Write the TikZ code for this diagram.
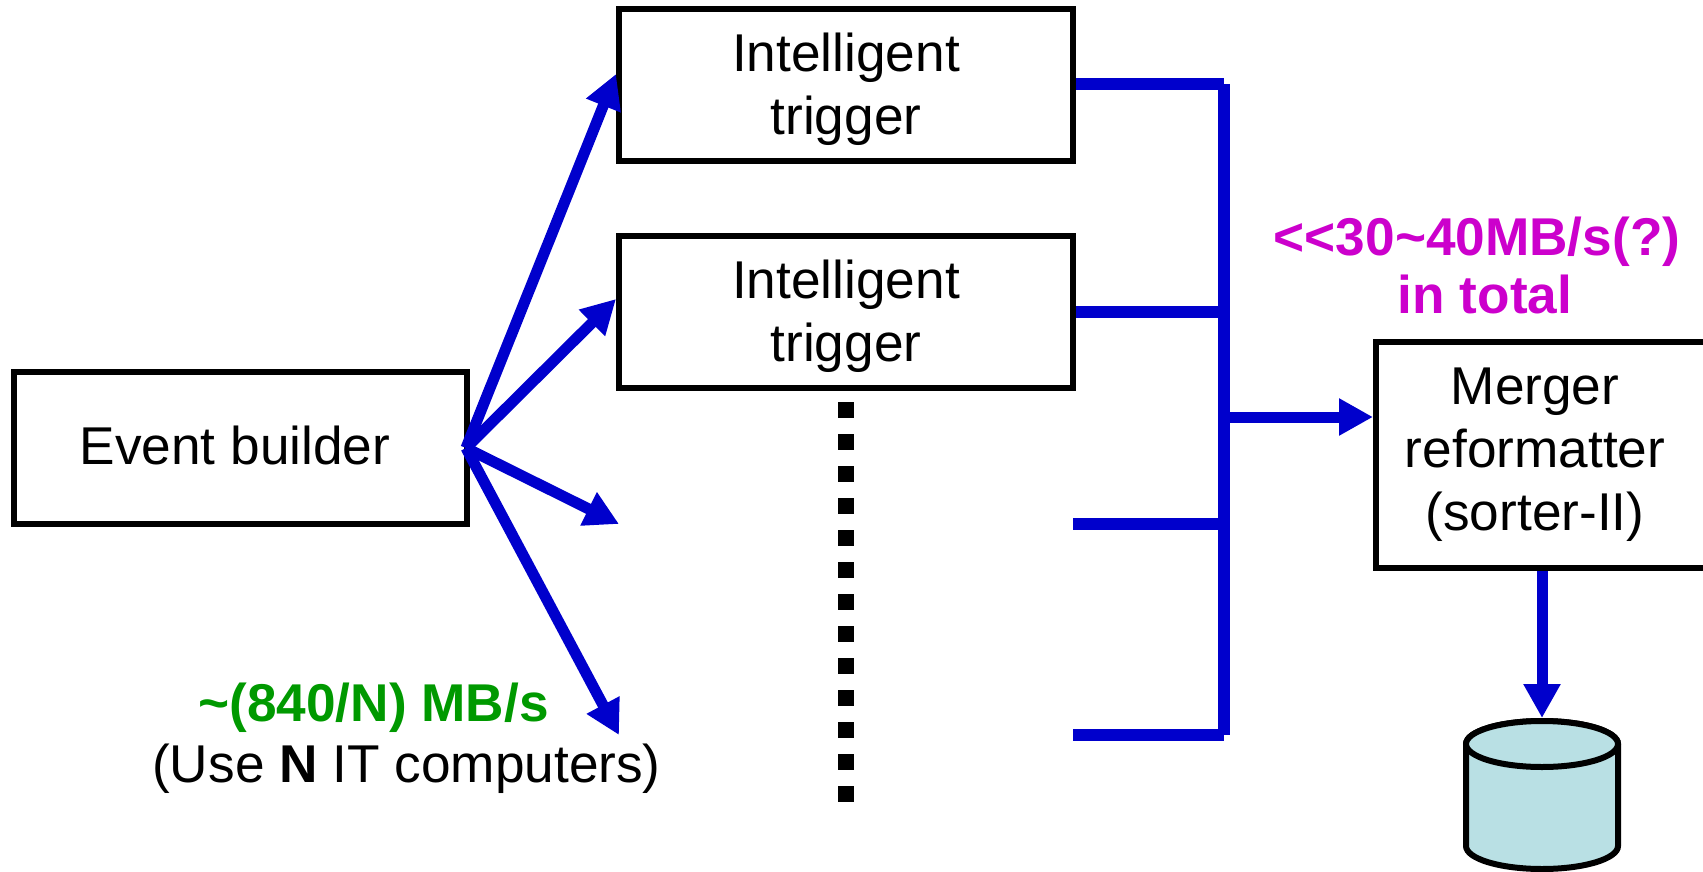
\documentclass[tikz,border=0pt]{standalone}
\usepackage{xcolor}
\usepackage{fontspec}
\setmainfont{Liberation Sans}
\usetikzlibrary{positioning}
\usetikzlibrary{shapes.geometric, arrows.meta}

\definecolor{linkblue}{RGB}{0,0,204}
\definecolor{diskfill}{RGB}{185,224,228}
\definecolor{ratemagenta}{RGB}{204,0,204}
\definecolor{rategreen}{RGB}{0,153,0}

\begin{document}
\begin{tikzpicture}[
    x=0.5pt,
    y=-0.5pt,
    every node/.style={
        font=\fontsize{26.6}{31.5}\selectfont
    },
    block/.style={
        rectangle,
        draw=black,
        line width=3pt,
        fill=white,
        align=center,
        inner sep=0pt
    },
    trigger/.style={
        block,
        minimum width=227pt,
        minimum height=76pt
    },
    link/.style={
        -{Triangle[length=17pt,width=17.5pt]},
        draw=linkblue,
        line width=5.5pt
    },
    bus/.style={
        draw=linkblue,
        line width=5.8pt
    },
    dots/.style={
        draw=black,
        line width=8pt,
        dash pattern=on 8pt off 8pt
    },
    rate/.style={
        font=\fontsize{26.6}{31.5}\selectfont\bfseries,
        inner sep=0pt
    },
    disk/.style={
        draw=black,
        line width=3pt,
        fill=diskfill
    }
]
\useasboundingbox (0,0) rectangle (1703,872);

\node[block, minimum width=226.5pt, minimum height=76pt] (builder) at (240.5,448) {\rule[-3pt]{0pt}{1pt}Event builder\kern5.5pt};
\node[trigger] (triggerA) at (846,85) {\rule{0pt}{23.8pt}Intelligent\\trigger};
\node[trigger] (triggerB) [below=34.5pt of triggerA] {\rule{0pt}{23.8pt}Intelligent\\trigger};
\node[block, minimum width=172pt, minimum height=113pt] (merger) at (1548,455) {%
    \begin{tabular}{@{}c@{}}
    Merger \\
    reformatter \\
    (sorter-II)
    \end{tabular}\kern13pt%
};

% disk: body first, the lid is a node
\draw[disk] (1466,744) -- (1466,846) arc[start angle=180, end angle=360, x radius=38pt, y radius=11.5pt]
    -- (1618,744) arc[start angle=0, end angle=180, x radius=38pt, y radius=11.5pt] -- cycle;
\node[ellipse, disk, minimum width=76pt, minimum height=23pt, inner sep=0pt] (diskLid) at (1542,744) {};

\node[rate, text=ratemagenta, anchor=base] (ratetotal) at (1477,255) {<{}<30\textasciitilde40MB/s(?)};
\node[rate, text=ratemagenta, anchor=base] (intotal) at (1485,313) {in total};
\node[rate, text=rategreen] (rateeach) at (373.5,708) {\textasciitilde(840/N) MB/s};
\node[inner sep=0pt] (usen) at (406.5,768.5) {(Use \textbf{N} IT computers)};

\coordinate (source) at ([xshift=-2pt]builder.east);
\coordinate (branchC) at (619,524);
\coordinate (branchD) at (619,735);
\coordinate (stubC) at (1073,524);
\coordinate (stubD) at (1073,735);
\coordinate (busTop) at (1224,84);
\coordinate (busBottom) at (1224,735);
\coordinate (busOut) at (1224,417);
\coordinate (dotsTop) at (846,402);
\coordinate (dotsBottom) at (846,803);

\draw[link] (source) -- ([yshift=5.5pt]triggerA.west);
\draw[link] (source) -- ([yshift=6.5pt]triggerB.west);
\draw[link] (source) -- (branchC);
\draw[link] (source) -- (branchD);

\draw[bus] (triggerA.east |- busTop) -- (busTop);
\draw[bus] (triggerB.east) -- (triggerB.east -| busTop);
\draw[bus] (stubC) -- (stubC -| busTop);
\draw[bus] (stubD) -- (busBottom);
\draw[bus] (busTop) -- (busBottom);

\draw[link] (busOut) -- (merger.west |- busOut);
\draw[link] (merger.south -| diskLid.north) -- (diskLid.north);

\draw[dots] (dotsTop) -- (dotsBottom);

\end{tikzpicture}
\end{document}
